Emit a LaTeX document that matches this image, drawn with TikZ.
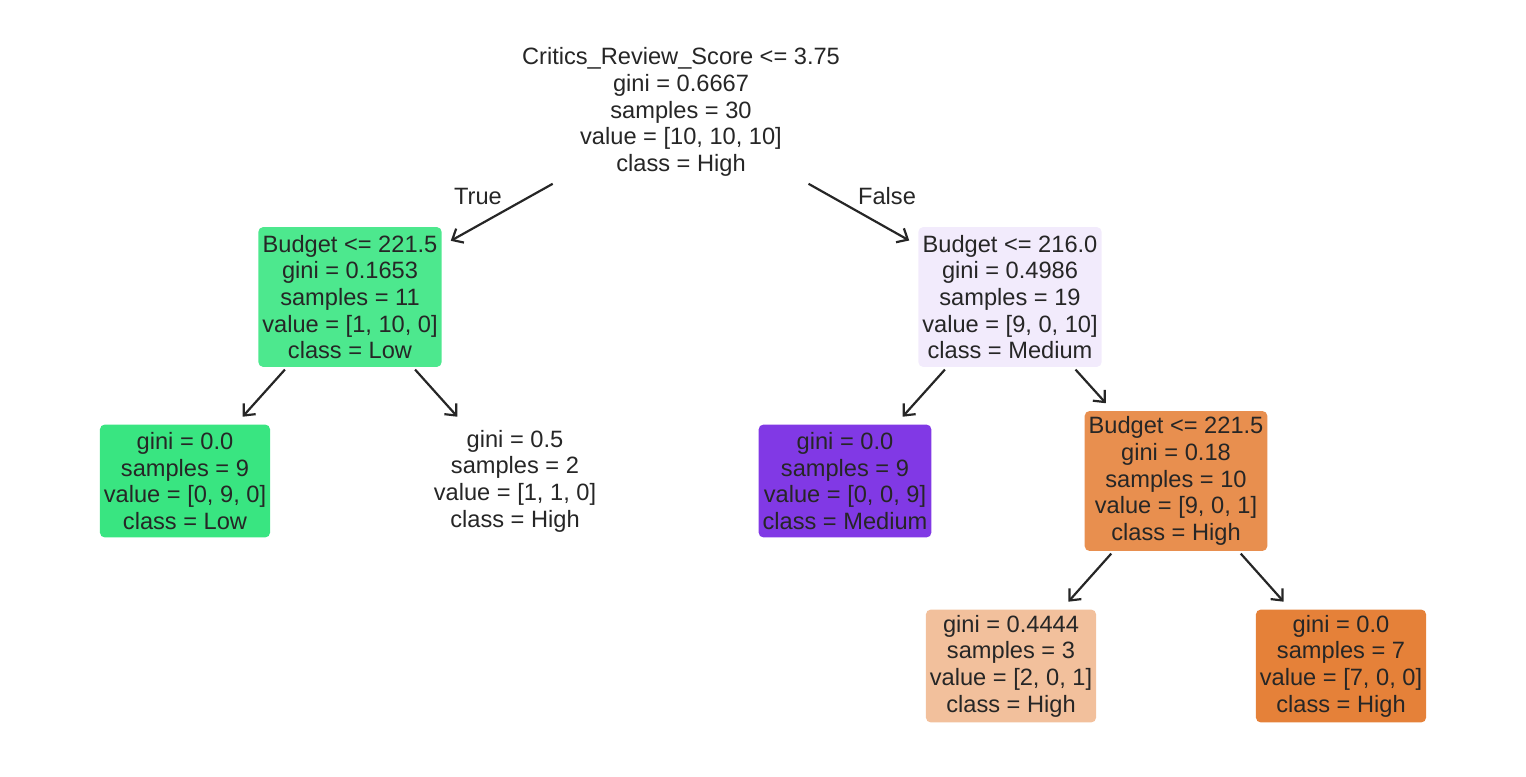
\documentclass[tikz,border=0pt]{standalone}
\usepackage{fontspec}
\setmainfont{Liberation Sans}
\usetikzlibrary{arrows.meta}
\definecolor{ink}{RGB}{38,38,38}
\definecolor{lowfull}{RGB}{57,229,129}
\definecolor{lowpart}{RGB}{77,232,142}
\definecolor{medfull}{RGB}{129,57,229}
\definecolor{medpart}{RGB}{242,235,252}
\definecolor{highfull}{RGB}{229,129,57}
\definecolor{highpart}{RGB}{232,143,79}
\definecolor{highhalf}{RGB}{242,192,156}

\begin{document}
\begin{tikzpicture}[x=0.02cm, y=-0.02cm]
    \tikzset{%
      box/.style={rectangle, rounded corners=0.1cm, align=center,
        text=ink, inner xsep=0.08cm, inner ysep=0.05cm,
        minimum height=2.8cm,
        font=\fontsize{13.45pt}{15.2pt}\selectfont},
      leaf/.style={box, minimum height=2.26cm},
      edge/.style={ink, line width=1.25pt, shorten <=0.06cm,
        shorten >=0.2cm, -{Straight Barb[length=0.18cm, width=0.32cm]}},
      branch/.style={text=ink, font=\fontsize{13.45pt}{15.2pt}\selectfont},
    }
    \useasboundingbox (0,0) rectangle (1526,777);

    % level 0
    \node[box, fill=white] (root) at (681,112)
      {Critics\_Review\_Score <= 3.75\\ gini = 0.6667\\ samples = 30\\
       value = [10, 10, 10]\\ class = High};

    % level 1
    \node[box, fill=lowpart] (L) at (350,297)
      {Budget <= 221.5\\ gini = 0.1653\\ samples = 11\\
       value = [1, 10, 0]\\ class = Low};
    \node[box, fill=medpart] (R) at (1010,297)
      {Budget <= 216.0\\ gini = 0.4986\\ samples = 19\\
       value = [9, 0, 10]\\ class = Medium};
    \draw [edge] (root) -- (L);
    \draw [edge] (root) -- (R);
    \node[branch] (T) at (478,196) {True};
    \node[branch] (F) at (887,196) {False};

    % level 2
    \node[leaf, fill=lowfull] (LL) at (185,481)
      {gini = 0.0\\ samples = 9\\ value = [0, 9, 0]\\ class = Low};
    \node[leaf, fill=white] (LR) at (515,481)
      {gini = 0.5\\ samples = 2\\ value = [1, 1, 0]\\ class = High};
    \node[leaf, fill=medfull] (RL) at (845,481)
      {gini = 0.0\\ samples = 9\\ value = [0, 0, 9]\\ class = Medium};
    \node[box, fill=highpart] (RR) at (1176,481)
      {Budget <= 221.5\\ gini = 0.18\\ samples = 10\\
       value = [9, 0, 1]\\ class = High};
    \draw [edge] (L) -- (LL);
    \draw [edge] (L) -- (LR);
    \draw [edge] (R) -- (RL);
    \draw [edge] (R) -- (RR);

    % level 3
    \node[leaf, fill=highhalf] (RRL) at (1011,666)
      {gini = 0.4444\\ samples = 3\\ value = [2, 0, 1]\\ class = High};
    \node[leaf, fill=highfull] (RRR) at (1341,666)
      {gini = 0.0\\ samples = 7\\ value = [7, 0, 0]\\ class = High};
    \draw [edge] (RR) -- (RRL);
    \draw [edge] (RR) -- (RRR);
\end{tikzpicture}
\end{document}
